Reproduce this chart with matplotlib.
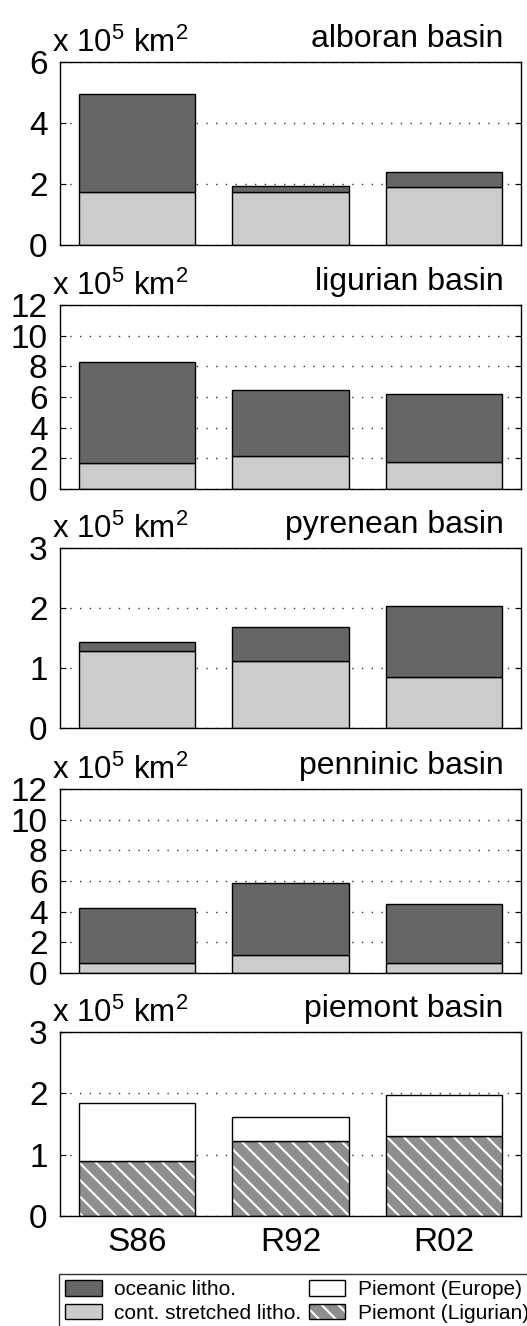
import matplotlib
matplotlib.use('Agg')
import matplotlib.pyplot as plt
from matplotlib.patches import Patch
from matplotlib.legend_handler import HandlerTuple
import numpy as np

plt.rcParams['font.family'] = ['Liberation Sans', 'DejaVu Sans']
plt.rcParams['mathtext.fontset'] = 'custom'
plt.rcParams['mathtext.rm'] = 'Liberation Sans'
plt.rcParams['mathtext.it'] = 'Liberation Sans:italic'
plt.rcParams['hatch.linewidth'] = 1.5

# data (x 10^5 km^2)
models = ['S86', 'R92', 'R02']
basins = ['alboran basin', 'ligurian basin', 'pyrenean basin', 'penninic basin']
cont_alboran = [1.74, 1.74, 1.90]
ocean_alboran = [3.22, 0.18, 0.49]
cont_ligurian = [1.70, 2.16, 1.74]
ocean_ligurian = [6.60, 4.27, 4.47]
cont_pyrenean = [1.28, 1.11, 0.85]
ocean_pyrenean = [0.15, 0.58, 1.19]
cont_penninic = [0.65, 1.18, 0.65]
ocean_penninic = [3.60, 4.68, 3.86]
piemont_ligurian = [0.90, 1.22, 1.30]
piemont_europe = [0.94, 0.40, 0.67]

y_max = [6, 12, 3, 12, 3]
y_step = [2, 2, 1, 2, 1]

cont_all = [cont_alboran, cont_ligurian, cont_pyrenean, cont_penninic]
ocean_all = [ocean_alboran, ocean_ligurian, ocean_pyrenean, ocean_penninic]

C_OCEAN = '#666666'
C_CONT = '#cccccc'
C_HATCH = '#8e8e8e'

W, H = 527, 1326
fig = plt.figure(figsize=(W / 100, H / 100), dpi=100)

# panel extents in pixels (top, bottom)
panels_px = [(62, 245), (305, 489), (548, 728), (789, 973), (1032, 1216)]
ax_left, ax_right = 60, 521

x = np.arange(1, 4)
bw = 0.755


def style_axis(ax, ymax, step, title):
    ax.set_xlim(0.5, 3.5)
    ax.set_ylim(0, ymax)
    ax.set_yticks(np.arange(0, ymax + step / 2, step))
    ax.set_axisbelow(True)
    ax.yaxis.grid(True, linestyle=(0, (1, 6)), color='#333333', linewidth=1.0)
    ax.tick_params(axis='y', direction='in', left=True, right=True, length=4,
                   width=0.8, labelsize=24, pad=9)
    ax.tick_params(axis='x', length=0)
    for s in ax.spines.values():
        s.set_linewidth(1.0)
        s.set_color('black')
    ax.text(-0.017, 1.055, 'x 10$^{5}$ km$^{2}$', transform=ax.transAxes,
            ha='left', va='baseline', fontsize=22.5)
    ax.text(0.962, 1.082, title, transform=ax.transAxes,
            ha='right', va='baseline', fontsize=23)


axes = []
for i, (top, bot) in enumerate(panels_px):
    ax = fig.add_axes([ax_left / W, 1 - bot / H, (ax_right - ax_left) / W, (bot - top) / H])
    axes.append(ax)

for i in range(4):
    ax = axes[i]
    ax.bar(x, cont_all[i], width=bw, color=C_CONT, edgecolor='black', linewidth=1.0)
    ax.bar(x, ocean_all[i], width=bw, bottom=cont_all[i], color=C_OCEAN,
           edgecolor='black', linewidth=1.0)
    style_axis(ax, y_max[i], y_step[i], basins[i])
    ax.set_xticks(x)
    ax.set_xticklabels([])

ax = axes[4]
ax.bar(x, piemont_ligurian, width=bw, color=C_HATCH, edgecolor='white',
       hatch='\\\\', linewidth=0)
ax.bar(x, piemont_ligurian, width=bw, fill=False, edgecolor='black', linewidth=1.0)
ax.bar(x, piemont_europe, width=bw, bottom=piemont_ligurian, color='white',
       edgecolor='black', linewidth=1.0)
style_axis(ax, y_max[4], y_step[4], 'piemont basin')
ax.set_xticks(x)
ax.set_xticklabels(models, fontsize=24)
ax.tick_params(axis='x', pad=8)

# legend
h_ocean = Patch(facecolor=C_OCEAN, edgecolor='black', linewidth=1.0)
h_cont = Patch(facecolor=C_CONT, edgecolor='black', linewidth=1.0)
h_eur = Patch(facecolor='white', edgecolor='black', linewidth=1.0)
h_lig = (Patch(facecolor=C_HATCH, edgecolor='white', hatch='\\\\', linewidth=0),
         Patch(fill=False, edgecolor='black', linewidth=1.0))
leg = fig.legend([h_ocean, h_cont, h_eur, h_lig],
                 ['oceanic litho.', 'cont. stretched litho.', 'Piemont (Europe)', 'Piemont (Ligurian)'],
                 handler_map={tuple: HandlerTuple(ndivide=1, pad=0)},
                 ncol=2, loc='lower left', bbox_to_anchor=(59 / W, -3 / H),
                 fontsize=15, frameon=True, fancybox=False, framealpha=1,
                 edgecolor='#333333', handlelength=1.75, handleheight=0.8,
                 handletextpad=0.6, columnspacing=0.35, labelspacing=0.22,
                 borderpad=0.3, borderaxespad=0)
leg.get_frame().set_linewidth(1.0)

fig.savefig('out.png', dpi=100)
